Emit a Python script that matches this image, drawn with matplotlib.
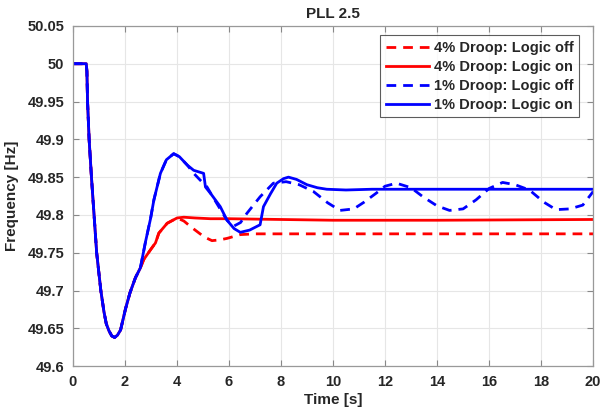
import matplotlib
matplotlib.use("Agg")
import matplotlib.pyplot as plt

plt.rcParams['font.family'] = ['Liberation Sans', 'DejaVu Sans']

# Shared early trajectory (all cases identical until ~2.6 s)
t_common = [0, 0.52, 0.545, 0.57, 0.63, 0.72, 0.82, 0.92, 1.08, 1.2, 1.29, 1.39, 1.5, 1.61, 1.72, 1.84, 2.03, 2.2, 2.41, 2.6]
f_common = [50.0, 50.0, 49.99, 49.95, 49.90, 49.85, 49.80, 49.75, 49.70, 49.672, 49.656, 49.647, 49.640, 49.638,
            49.641, 49.648, 49.676, 49.697, 49.717, 49.730]

# 1% droop, logic on
t_b_on = t_common + [2.8, 2.99, 3.12, 3.37, 3.6, 3.88, 4.1, 4.4, 4.65, 5.03, 5.1, 5.35, 5.67, 5.93, 6.2, 6.44, 6.8, 7.2, 7.33,
                     7.6, 7.84, 8.1, 8.29, 8.6, 9.0, 9.4, 9.76, 10.5, 11.5, 13, 15, 17, 20]
f_b_on = f_common + [49.765, 49.795, 49.82, 49.855, 49.873, 49.881, 49.877, 49.866, 49.859, 49.855, 49.837, 49.826, 49.811,
                     49.793, 49.782, 49.777, 49.780, 49.787, 49.811, 49.828, 49.842, 49.848, 49.850, 49.847, 49.840,
                     49.836, 49.834, 49.833, 49.834, 49.834, 49.834, 49.834, 49.834]

# 1% droop, logic off
t_b_off = t_common + [2.8, 2.99, 3.12, 3.37, 3.6, 3.88, 4.1, 4.4, 4.65, 4.9, 5.16, 5.54, 5.93, 6.18, 6.45, 6.69, 7.2, 7.71,
                      8.2, 8.7, 9.25, 9.8, 10.27, 10.8, 11.2, 11.67, 12.0, 12.44, 13.0, 13.46, 14.0, 14.48, 15.0, 15.5,
                      16.0, 16.52, 17.0, 17.55, 18.1, 18.57, 19.1, 19.6, 20.0]
f_b_off = f_common + [49.765, 49.795, 49.82, 49.855, 49.873, 49.881, 49.877, 49.866, 49.855, 49.846, 49.837, 49.815, 49.793,
                      49.785, 49.790, 49.802, 49.824, 49.842, 49.844, 49.840, 49.831, 49.816, 49.806, 49.808, 49.817,
                      49.829, 49.838, 49.842, 49.836, 49.824, 49.812, 49.806, 49.808, 49.820, 49.835, 49.843, 49.840,
                      49.833, 49.817, 49.807, 49.808, 49.813, 49.831]

# 4% droop, logic on
t_r_on = t_common + [2.73, 2.99, 3.18, 3.31, 3.63, 4.01, 4.27, 4.7, 5.29, 6.0, 8.0, 10.0, 14.0, 20.0]
f_r_on = f_common + [49.741, 49.754, 49.763, 49.776, 49.789, 49.796, 49.797, 49.796, 49.795, 49.795, 49.794, 49.793,
                     49.793, 49.794]

# 4% droop, logic off
t_r_off = t_common + [2.73, 2.99, 3.18, 3.31, 3.63, 4.01, 4.27, 4.55, 4.78, 5.05, 5.35, 5.65, 5.93, 6.44, 7.0, 8.0,
                      10.0, 14.0, 20.0]
f_r_off = f_common + [49.741, 49.754, 49.763, 49.776, 49.789, 49.796, 49.792, 49.784, 49.778, 49.771, 49.766, 49.767,
                      49.769, 49.774, 49.775, 49.775, 49.775, 49.775, 49.775]

labels = ['4% Droop: Logic off', '4% Droop: Logic on', '1% Droop: Logic off', '1% Droop: Logic on']
x_ticks = [0, 2, 4, 6, 8, 10, 12, 14, 16, 18, 20]
y_ticks = [49.6, 49.65, 49.7, 49.75, 49.8, 49.85, 49.9, 49.95, 50.0, 50.05]
y_ticklabels = ['49.6', '49.65', '49.7', '49.75', '49.8', '49.85', '49.9', '49.95', '50', '50.05']

fig = plt.figure(figsize=(6.01, 4.18), dpi=100)
ax = fig.add_axes([0.121, 0.124, 0.866, 0.814])

ax.plot(t_r_off, f_r_off, color='#ff0000', lw=2, ls=(0, (3.5, 2.5)), label=labels[0])
ax.plot(t_r_on, f_r_on, color='#ff0000', lw=2, ls='-', label=labels[1])
ax.plot(t_b_off, f_b_off, color='#0000ff', lw=2, ls=(0, (3.5, 2.5)), label=labels[2])
ax.plot(t_b_on, f_b_on, color='#0000ff', lw=2, ls='-', label=labels[3])

ax.set_xlim(0, 20)
ax.set_ylim(49.6, 50.05)
ax.set_xticks(x_ticks)
ax.set_xticklabels([str(v) for v in x_ticks])
ax.set_yticks(y_ticks)
ax.set_yticklabels(y_ticklabels)
ax.grid(True, color='#e6e6e6', lw=0.8)
ax.set_axisbelow(True)
ax.tick_params(direction='in', top=True, right=True, length=4, color='#888888',
               labelsize=10.5, labelcolor='#262626', pad=6)
for lab in ax.get_xticklabels() + ax.get_yticklabels():
    lab.set_fontweight('bold')
for s in ax.spines.values():
    s.set_color('#999999')
    s.set_linewidth(0.9)

ax.set_xlabel('Time [s]', fontsize=11, fontweight='bold', color='#262626', labelpad=3)
ax.set_ylabel('Frequency [Hz]', fontsize=11, fontweight='bold', color='#262626', labelpad=6)
ax.set_title('PLL 2.5', fontsize=11, fontweight='bold', color='#262626', pad=6)

leg = ax.legend(loc='upper right', bbox_to_anchor=(0.982, 0.985), fontsize=10.5, frameon=True, fancybox=False,
                edgecolor='#333333', handlelength=3.0, handletextpad=0.3, borderpad=0.4, labelspacing=0.33,
                borderaxespad=0.3)
leg.get_frame().set_linewidth(0.8)
for txt in leg.get_texts():
    txt.set_fontweight('bold')
    txt.set_color('#262626')

fig.savefig('out.png', dpi=100)
